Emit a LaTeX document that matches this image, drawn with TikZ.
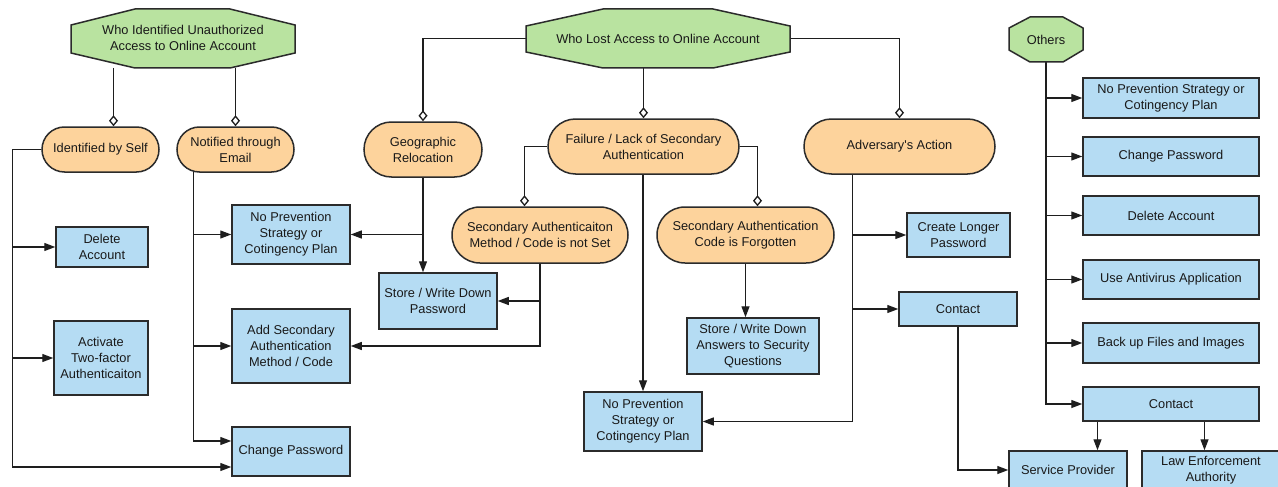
\documentclass[tikz,border=0pt]{standalone}
\usepackage{fontspec}
\setmainfont{Liberation Sans}
\usetikzlibrary{arrows.meta,backgrounds,calc}
\definecolor{gfill}{HTML}{B9E3A0}
\definecolor{ofill}{HTML}{FDD39C}
\definecolor{bfill}{HTML}{B5DCF3}
\definecolor{edgec}{HTML}{2B2B2B}
\definecolor{linec}{HTML}{1E1E1E}
\begin{document}
\begin{tikzpicture}[x=1pt,y=-1pt,
  base/.style={draw=edgec, line width=1.5pt, text=black!90, align=center, inner sep=0pt,
    font=\fontsize{12.8}{16}\selectfont},
  bluebox/.style={base, rectangle, fill=bfill},
  pill/.style={base, rectangle, fill=ofill},
  octbg/.style={draw=edgec, line width=1.5pt, fill=gfill},
  octlabel/.style={inner sep=0pt, align=center, text=black!90, font=\fontsize{12.8}{16}\selectfont},
  link/.style={draw=linec, line width=1.3pt},
  arr/.style={link, -{Triangle[length=11pt,width=8pt]}},
  dia/.style={link, -{Diamond[length=11pt,width=9pt,fill=white]}}]
\useasboundingbox (0,0) rectangle (1278,487);

% octagons
\path[octbg] (71,25)--(135,9)--(230,9)--(295,25)--(295,53)--(230,68)--(135,68)--(71,53)--cycle;
\node[octlabel, minimum width=224pt, minimum height=59pt] (wia) at (183,37.5) {Who Identified Unauthorized\\Access to Online Account};
\path[octbg] (526,26)--(603,9)--(713,9)--(790,26)--(790,52)--(713,68)--(603,68)--(526,52)--cycle;
\node[octlabel, minimum width=264pt, minimum height=59pt] (wlo) at (658,38.5) {Who Lost Access to Online Account};
\path[octbg] (1009,28)--(1030,17)--(1063,17)--(1083,28)--(1083,50)--(1063,62)--(1030,62)--(1009,50)--cycle;
\node[octlabel, minimum width=74pt, minimum height=45pt] (oth) at (1046,39.5) {Others};

% pills
\node[pill, rounded corners=22.5pt, minimum width=117pt, minimum height=45pt] (idself) at (100.5,149.5) {Identified by Self};
\node[pill, rounded corners=22.5pt, minimum width=117pt, minimum height=45pt] (notif) at (235.5,149.5) {Notified through\\Email};
\node[pill, rounded corners=27.5pt, minimum width=118pt, minimum height=55pt] (geo) at (423,149.5) {Geographic\\Relocation};
\node[pill, rounded corners=27.5pt, minimum width=191pt, minimum height=55pt] (fail) at (643.5,146.5) {Failure / Lack of Secondary\\Authentication};
\node[pill, rounded corners=27.5pt, minimum width=191pt, minimum height=55pt] (adv) at (899.5,146.5) {Adversary\textquotesingle s Action};
\node[pill, rounded corners=28pt, minimum width=176pt, minimum height=56pt] (secnot) at (540,235) {Secondary Authenticaiton\\Method / Code is not Set};
\node[pill, rounded corners=28pt, minimum width=177pt, minimum height=56pt] (secforg) at (745.5,235) {Secondary Authentication\\Code is Forgotten};

% blue boxes
\node[bluebox, minimum width=92pt, minimum height=40pt] (delacc) at (102,247) {Delete\\Account};
\node[bluebox, minimum width=94pt, minimum height=74pt] (act2fa) at (101,358) {Activate\\Two-factor\\Authenticaiton};
\node[bluebox, minimum width=118pt, minimum height=59pt] (noprevL) at (291,234.5) {No Prevention\\Strategy or\\Cotingency Plan};
\node[bluebox, minimum width=118pt, minimum height=74pt] (addsec) at (291,346) {Add Secondary\\Authentication\\Method / Code};
\node[bluebox, minimum width=118pt, minimum height=49pt] (chpwL) at (291,451.5) {Change Password};
\node[bluebox, minimum width=118pt, minimum height=56pt] (storepw) at (438,301) {Store / Write Down\\Password};
\node[bluebox, minimum width=118pt, minimum height=59pt] (noprevM) at (643,421.5) {No Prevention\\Strategy or\\Cotingency Plan};
\node[bluebox, minimum width=132pt, minimum height=56pt] (storeans) at (753,346) {Store / Write Down\\Answers to Security\\Questions};
\node[bluebox, minimum width=103pt, minimum height=44pt] (longer) at (958.5,235) {Create Longer\\Password};
\node[bluebox, minimum width=118pt, minimum height=34pt] (contM) at (958,309) {Contact};

\node[bluebox, minimum width=176pt, minimum height=40pt] (noprevR) at (1171,98) {No Prevention Strategy or\\Cotingency Plan};
\node[bluebox, minimum width=176pt, minimum height=39pt] (chpwR) at (1171,156.5) {Change Password};
\node[bluebox, minimum width=176pt, minimum height=39pt] (delR) at (1171,215.5) {Delete Account};
\node[bluebox, minimum width=176pt, minimum height=39pt] (avR) at (1171,279.5) {Use Antivirus Application};
\node[bluebox, minimum width=176pt, minimum height=40pt] (backR) at (1171,343) {Back up Files and Images};
\node[bluebox, minimum width=176pt, minimum height=34pt] (contR) at (1171,404) {Contact};
\node[bluebox, minimum width=118pt, minimum height=38pt] (sp) at (1068,470) {Service Provider};
\node[bluebox, minimum width=138pt, minimum height=38pt] (law) at (1211,470) {Law Enforcement\\Authority};

\coordinate (lbus) at (12.5,0);
\coordinate (nbus) at (193.5,0);
\coordinate (abus) at (852.5,0);
\coordinate (c1) at (113.5,0);
\coordinate (c2) at (524.5,0);
\coordinate (c3) at (757.5,0);
\coordinate (spn) at ([xshift=29.5pt]sp.north);
\coordinate (lawn) at ([xshift=-6.5pt]law.north);
\coordinate (storein) at ([xshift=-15pt]storepw.north);

\begin{scope}[on background layer]
\fill[white] (0,0) rectangle (1278,487);
% diamonds
\draw[dia] (c1 |- 68,68) -- (idself.north -| c1);
\draw[dia] (notif.north |- 68,68) -- (notif.north);
\draw[dia] (wlo.west) -| (geo.north);
\draw[dia] (wlo.south -| fail.north) -- (fail.north);
\draw[dia] (wlo.east) -| (adv.north);
\draw[dia] (fail.west) -| (secnot.north -| c2);
\draw[dia] (fail.east) -| (secforg.north -| c3);
% left group
\draw[arr] (idself.west) -- (idself.west -| lbus) |- ([yshift=-15.5pt]chpwL.west);
\draw[arr] (lbus |- delacc.west) -- (delacc.west);
\draw[arr] (lbus |- act2fa.west) -- (act2fa.west);
\draw[arr] (notif.center -| nbus) |- ([yshift=10.5pt]chpwL.west);
\draw[arr] (nbus |- noprevL.west) -- (noprevL.west);
\draw[arr] (nbus |- addsec.west) -- (addsec.west);
% middle group
\draw[arr] (geo.south) -- (storein);
\draw[arr] (geo.south |- noprevL.east) -- (noprevL.east);
\draw[arr] (secnot.south) |- (addsec.east);
\draw[arr] (secnot.south |- storepw.east) -- (storepw.east);
\draw[arr] (fail.south -| noprevM.north) -- (noprevM.north);
\draw[arr] (secforg.south) -- (secforg.south |- storeans.north);
\draw[arr] (adv.south -| abus) |- (noprevM.east);
\draw[arr] (abus |- longer.west) -- (longer.west);
\draw[arr] (abus |- contM.west) -- (contM.west);
\draw[arr] (contM.south) |- (sp.west);
% right group
\draw[arr] (oth.south) |- (contR.west);
\draw[arr] (oth.south |- noprevR.west) -- (noprevR.west);
\draw[arr] (oth.south |- chpwR.west) -- (chpwR.west);
\draw[arr] (oth.south |- delR.west) -- (delR.west);
\draw[arr] (oth.south |- avR.west) -- (avR.west);
\draw[arr] (oth.south |- backR.west) -- (backR.west);
\draw[arr] (contR.south -| spn) -- (spn);
\draw[arr] (contR.south -| lawn) -- (lawn);
\end{scope}
\end{tikzpicture}
\end{document}
